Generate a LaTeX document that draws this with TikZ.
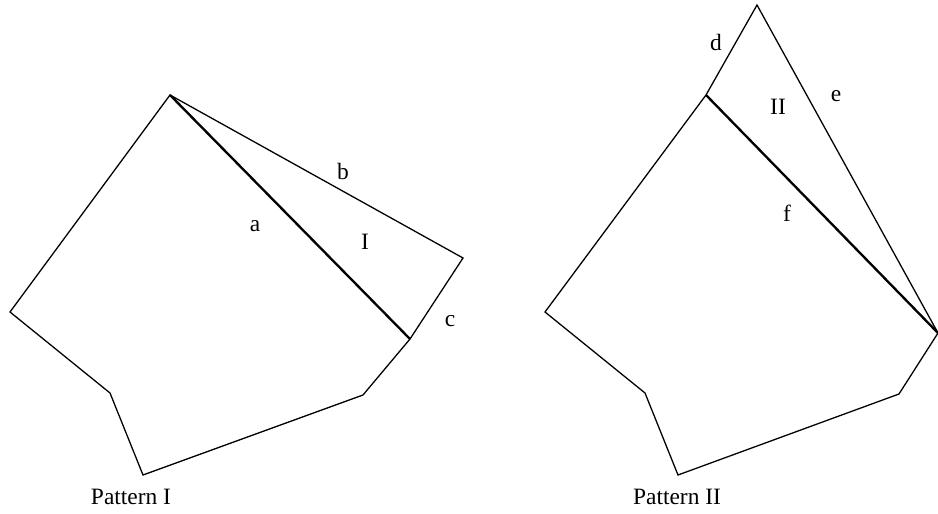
\documentclass[tikz,border=0pt]{standalone}
\usepackage{fontspec}
\setmainfont{Liberation Serif}
\usetikzlibrary{positioning}

\tikzset{
  rand/.style={line width=0.55pt, line join=miter},
  schnitt/.style={line width=1pt},
  lbl/.style={font=\normalsize, inner sep=1pt}
}

\begin{document}
\begin{tikzpicture}[x=0.015cm, y=-0.015cm]
        \useasboundingbox (0,0) rectangle (938,514);
        % Pattern I
        \coordinate (pA) at (170,95);
        \coordinate (pB) at (10,312);
        \coordinate (pC) at (110,393);
        \coordinate (pD) at (143,475);
        \coordinate (pE) at (363,395);
        \coordinate (pF) at (410,339);
        \coordinate (pG) at (463,258);
        \draw[rand] (pA) -- (pB) -- (pC) -- (pD) -- (pE) -- (pF)
          -- (pG) -- cycle;
        \draw[schnitt] (pA) -- (pF);
        \node[lbl] (la) at (255,226) {a};
        \node[lbl] (lb) at (343,171) {b};
        \node[lbl] (lI) at (365,242) {I};
        \node[lbl] (lc) at (450,321) {c};
        \node[lbl] (t1) at (131,497) {Pattern I};
        % Pattern II
        \coordinate (qA) at (706,95);
        \coordinate (qB) at (545,312);
        \coordinate (qC) at (645,393);
        \coordinate (qD) at (678,475);
        \coordinate (qE) at (899,394);
        \coordinate (qF) at (938,333);
        \coordinate (qG) at (757,5);
        \draw[rand] (qA) -- (qB) -- (qC) -- (qD) -- (qE) -- (qF)
          -- (qG) -- cycle;
        \draw[schnitt] (qA) -- (qF);
        \node[lbl] (ld) at (716,42) {d};
        \node[lbl] (lII) at (778,107) {II};
        \node[lbl] (le) at (836,96) {e};
        \node[lbl] (lf) at (787,213) {f};
        \node[lbl] (t2) at (677,497) {Pattern II};
      \end{tikzpicture}
\end{document}
